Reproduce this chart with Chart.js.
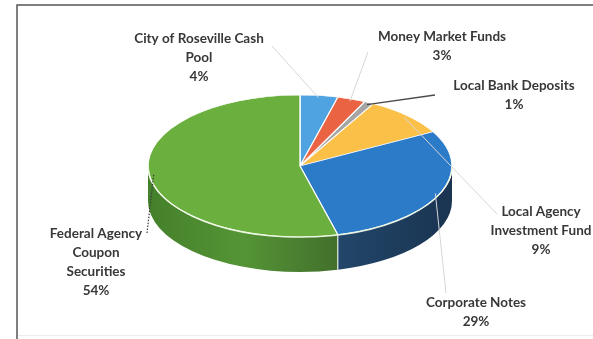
<!DOCTYPE html>
<html>
<head>
<meta charset="utf-8">
<script src="https://cdn.jsdelivr.net/npm/chart.js@4.4.1/dist/chart.umd.min.js"></script>
<style>
  body { margin: 0; background: #fff; }
  canvas { display: block; }
</style>
</head>
<body>
<canvas id="portfolioChart" width="593" height="339"></canvas>
<script>
const categories = [
  'City of Roseville Cash Pool',
  'Money Market Funds',
  'Local Bank Deposits',
  'Local Agency Investment Fund',
  'Corporate Notes',
  'Federal Agency Coupon Securities'
];
const shares = [4, 3, 1, 9, 29, 54];
const labelLines = [
  ['City of Roseville Cash', 'Pool'],
  ['Money Market Funds'],
  ['Local Bank Deposits'],
  ['Local Agency', 'Investment Fund'],
  ['Corporate Notes'],
  ['Federal Agency', 'Coupon', 'Securities']
];
const topColors = ['#4ea3e0', '#ea6342', '#a5a5a5', '#fbc047', '#2c7bc9', '#6bb03e'];
const sideColors = [
  ['#2f6f9e', '#3b82b5'],
  ['#a8442c', '#c0523a'],
  ['#777777', '#888888'],
  ['#b8882e', '#c99a3a'],
  ['#22466a', '#1a3451'],
  ['#44802a', '#559436', '#42702b']
];

// where each label block sits and where its leader line leaves it
const labelSpots = [
  { x: 199, y: 39, from: [272, 46], line: 'light' },
  { x: 442, y: 37, from: [368, 52], line: 'light' },
  { x: 514, y: 86, from: [435, 95], line: 'dark' },
  { x: 541, y: 212, from: [497, 214], line: 'light' },
  { x: 476, y: 303, from: [446, 293], line: 'light' },
  { x: 96, y: 234, from: [147, 233], line: 'dots' }
];

// tilted pie: ellipse centre, radii and wall height
const CX = 300, CY = 166, RX = 152, RY = 71, DEPTH = 35;

function onTop(angle, f) {
  return [CX + Math.cos(angle) * RX * f, CY + Math.sin(angle) * RY * f];
}

const tiltPlugin = {
  id: 'tilt',
  beforeDatasetsDraw(chart) {
    const ctx = chart.ctx;
    const arcs = chart.getDatasetMeta(0).data;

    // front walls, only the half that faces the viewer
    arcs.forEach((arc, i) => {
      const a0 = Math.max(arc.startAngle, 0);
      const a1 = Math.min(arc.endAngle, Math.PI);
      if (a1 <= a0) return;
      const [xa] = onTop(a0, 1);
      const [xb] = onTop(a1, 1);
      const g = ctx.createLinearGradient(Math.min(xa, xb), 0, Math.max(xa, xb), 0);
      const cols = sideColors[i];
      cols.forEach((c, j) => g.addColorStop(cols.length === 1 ? 0 : j / (cols.length - 1), c));
      ctx.beginPath();
      ctx.ellipse(CX, CY, RX, RY, 0, a0, a1);
      ctx.ellipse(CX, CY + DEPTH, RX, RY, 0, a1, a0, true);
      ctx.closePath();
      ctx.fillStyle = g;
      ctx.fill();
    });

    // wall seams between slices
    ctx.strokeStyle = 'rgba(255,255,255,0.85)';
    ctx.lineWidth = 1.2;
    arcs.forEach(arc => {
      const a = arc.endAngle;
      if (a > 0 && a < Math.PI) {
        const [x, y] = onTop(a, 1);
        ctx.beginPath();
        ctx.moveTo(x, y);
        ctx.lineTo(x, y + DEPTH);
        ctx.stroke();
      }
    });

    // squash the round pie into the top face
    const ref = arcs[0];
    const r = ref.outerRadius;
    ctx.save();
    ctx.translate(CX, CY);
    ctx.scale(RX / r, RY / r);
    ctx.translate(-ref.x, -ref.y);
  },
  afterDatasetsDraw(chart) {
    const ctx = chart.ctx;
    ctx.restore();

    // light rim along the front edge of the top face
    ctx.beginPath();
    ctx.ellipse(CX, CY, RX, RY, 0, 0, Math.PI);
    ctx.strokeStyle = 'rgba(240,250,230,0.9)';
    ctx.lineWidth = 1.5;
    ctx.stroke();

    const arcs = chart.getDatasetMeta(0).data;
    const total = shares.reduce((a, b) => a + b, 0);

    arcs.forEach((arc, i) => {
      const spot = labelSpots[i];
      const mid = (arc.startAngle + arc.endAngle) / 2;
      const [tx, ty] = onTop(mid, 0.97);

      ctx.save();
      ctx.beginPath();
      ctx.moveTo(spot.from[0], spot.from[1]);
      ctx.lineTo(tx, ty);
      if (spot.line === 'dark') {
        ctx.strokeStyle = '#4a4a4a';
        ctx.lineWidth = 1.3;
      } else if (spot.line === 'dots') {
        ctx.strokeStyle = '#3a3a3a';
        ctx.lineWidth = 1.2;
        ctx.setLineDash([1.5, 1.5]);
      } else {
        ctx.strokeStyle = '#d6d6d6';
        ctx.lineWidth = 1;
      }
      ctx.stroke();
      ctx.restore();

      const pct = Math.round(shares[i] / total * 100) + '%';
      const lines = labelLines[i].concat([pct]);
      ctx.fillStyle = '#383838';
      ctx.font = 'bold 13.5px Lato';
      ctx.textAlign = 'center';
      ctx.textBaseline = 'middle';
      lines.forEach((t, j) => ctx.fillText(t, spot.x, spot.y + j * 19));
    });

    // chart frame
    ctx.beginPath();
    ctx.moveTo(17, 339);
    ctx.lineTo(17, 5);
    ctx.lineTo(593, 5);
    ctx.strokeStyle = '#555';
    ctx.lineWidth = 1.5;
    ctx.stroke();
    ctx.beginPath();
    ctx.moveTo(18, 335.5);
    ctx.lineTo(593, 335.5);
    ctx.strokeStyle = '#ececec';
    ctx.lineWidth = 1;
    ctx.stroke();
  }
};

new Chart(document.getElementById('portfolioChart'), {
  type: 'pie',
  data: {
    labels: categories,
    datasets: [{
      data: shares,
      backgroundColor: topColors,
      borderColor: '#ffffff',
      borderWidth: 1.5,
      clip: false
    }]
  },
  options: {
    responsive: false,
    animation: false,
    events: [],
    plugins: {
      legend: { display: false },
      tooltip: { enabled: false }
    }
  },
  plugins: [tiltPlugin]
});
</script>
</body>
</html>
